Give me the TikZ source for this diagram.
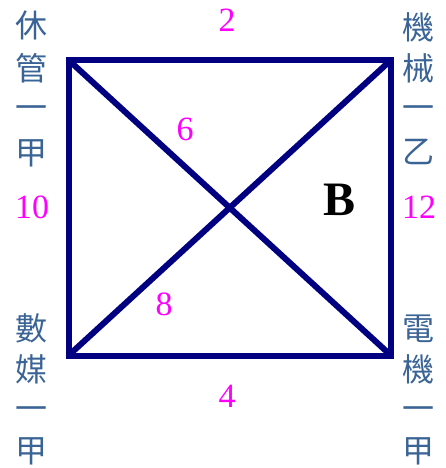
\documentclass[tikz,border=0pt]{standalone}
\usepackage{fontspec}
\usepackage{xcolor}
\setmainfont{Liberation Serif}
\newfontfamily\cjk{Noto Sans CJK TC}
\definecolor{sqblue}{RGB}{0,0,128}
\definecolor{labblue}{RGB}{59,100,150}
\definecolor{scorepink}{RGB}{255,0,255}

\begin{document}
\begin{tikzpicture}[x=1pt,y=-1pt,
  sq/.style={line width=6pt,sqblue},
  cjklab/.style={labblue,inner sep=0pt,anchor=base,font=\cjk\fontsize{32}{38}\selectfont},
  num/.style={scorepink,inner sep=0pt,anchor=base,font=\fontsize{34}{40}\selectfont}]
\useasboundingbox (0,0) rectangle (445,468);
\coordinate (TL) at (68.5,60); \coordinate (TR) at (391,60);
\coordinate (BL) at (68.5,355.5); \coordinate (BR) at (391,355.5);
\draw[sq] (TL) -- (TR) -- (BR) -- (BL) -- cycle;
\draw[sq] (TL) -- (BR);
\draw[sq] (TR) -- (BL);
% class names down the sides
\foreach \ch/\yy [count=\i] in {休/38,管/81,一/120,甲/164}
  \node[cjklab] (lt\i) at (32,\yy) {\ch};
\foreach \ch/\yy [count=\i] in {數/340,媒/381,一/420,甲/462}
  \node[cjklab] (lb\i) at (32,\yy) {\ch};
\foreach \ch/\yy [count=\i] in {機/40,械/81,一/120,乙/163}
  \node[cjklab] (rt\i) at (418,\yy) {\ch};
\foreach \ch/\yy [count=\i] in {電/340,機/381,一/420,甲/462}
  \node[cjklab] (rb\i) at (418,\yy) {\ch};
% scores
\node[num] (top) at (227,32) {2};
\node[num] (bot) at (227,407) {4};
\node[num] (lft) at (32,218) {10};
\node[num] (rgt) at (419,218) {12};
\node[num] (dg1) at (185,140) {6};
\node[num] (dg2) at (164,315) {8};
\node[inner sep=0pt,anchor=base,font=\bfseries\fontsize{48}{56}\selectfont] (grp) at (340,215) {B};
\end{tikzpicture}
\end{document}
